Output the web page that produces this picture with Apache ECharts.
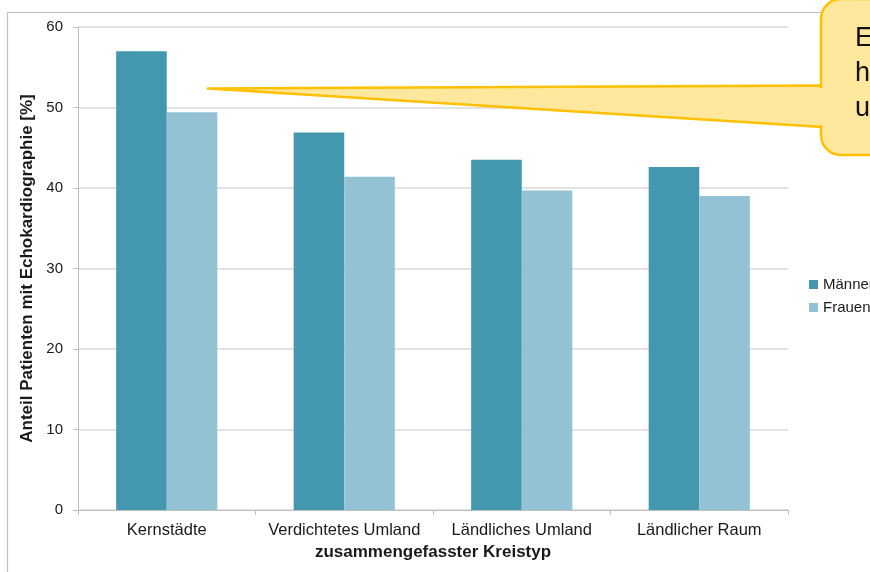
<!DOCTYPE html>
<html>
<head>
<meta charset="utf-8">
<script src="https://cdn.jsdelivr.net/npm/echarts@6/dist/echarts.min.js"></script>
<style>
  html, body { margin: 0; padding: 0; background: #ffffff; }
  #chart { width: 870px; height: 572px; }
</style>
</head>
<body>
<div id="chart"></div>
<script>
// Kreistypen (x-axis categories)
const categories = ['Kernstädte', 'Verdichtetes Umland', 'Ländliches Umland', 'Ländlicher Raum'];
// Anteil Patienten mit Echokardiographie in %
const maenner = [57.0, 46.9, 43.5, 42.6];
const frauen = [49.4, 41.4, 39.7, 39.0];
const seriesNames = ['Männer', 'Frauen'];
const yTicks = { min: 0, max: 60, interval: 10 };
const calloutLines = ['E', 'h', 'u'];

const colorM = '#4397ae';
const colorF = '#93c2d4';
const font = '"Liberation Sans", Arial, sans-serif';
const bubbleFill = '#ffe79e';
const bubbleStroke = '#ffc000';

const chart = echarts.init(document.getElementById('chart'), null, { renderer: 'canvas' });

const calloutText = calloutLines.map((t, i) => ({
  type: 'text',
  z: 103,
  style: {
    x: 855, y: 39 + i * 35, text: t,
    font: '27px ' + font, fill: '#111111',
    verticalAlign: 'middle'
  }
}));

chart.setOption({
  backgroundColor: '#ffffff',
  animation: false,
  grid: { left: 78, right: 82, top: 27, bottom: 62, containLabel: false },
  legend: {
    orient: 'vertical',
    left: 804, top: 272,
    itemWidth: 9, itemHeight: 9, itemGap: 8,
    icon: 'rect',
    textStyle: { fontFamily: font, fontSize: 15, color: '#1a1a1a', lineHeight: 15 },
    data: seriesNames
  },
  xAxis: {
    type: 'category',
    data: categories,
    name: 'zusammengefasster Kreistyp',
    nameLocation: 'middle',
    nameGap: 34,
    nameTextStyle: { fontFamily: font, fontSize: 17, fontWeight: 'bold', color: '#1a1a1a' },
    axisLine: { lineStyle: { color: '#bfbfbf', width: 1 } },
    axisTick: { show: true, length: 5, lineStyle: { color: '#bfbfbf' } },
    axisLabel: { fontFamily: font, fontSize: 16.5, color: '#1a1a1a', margin: 12, interval: 0 }
  },
  yAxis: {
    type: 'value',
    min: yTicks.min, max: yTicks.max, interval: yTicks.interval,
    name: 'Anteil Patienten mit Echokardiographie [%]',
    nameLocation: 'middle',
    nameGap: 33,
    nameTextStyle: { fontFamily: font, fontSize: 17, fontWeight: 'bold', color: '#1a1a1a' },
    axisLine: { show: true, lineStyle: { color: '#bfbfbf', width: 1 } },
    axisTick: { show: true, length: 5, lineStyle: { color: '#bfbfbf' } },
    axisLabel: { fontFamily: font, fontSize: 15, color: '#1a1a1a', margin: 15 },
    splitLine: { show: true, lineStyle: { color: '#d9d9d9', width: 1.5 } }
  },
  series: [
    {
      name: seriesNames[0], type: 'bar', data: maenner,
      itemStyle: { color: colorM },
      barGap: '0%', barCategoryGap: '43%'
    },
    {
      name: seriesNames[1], type: 'bar', data: frauen,
      itemStyle: { color: colorF },
      barGap: '0%', barCategoryGap: '43%'
    }
  ],
  graphic: [
    {
      // outer chart frame
      type: 'rect', z: -1, silent: true,
      shape: { x: 7.5, y: 12.5, width: 900, height: 600 },
      style: { fill: 'none', stroke: '#bfbfbf', lineWidth: 1.2 }
    },
    {
      // speech bubble pointer
      type: 'polygon', z: 100, silent: true,
      shape: { points: [[208, 88.5], [823, 85.5], [823, 127]] },
      style: { fill: bubbleFill, stroke: bubbleStroke, lineWidth: 2.5, lineJoin: 'round' }
    },
    {
      // speech bubble body
      type: 'rect', z: 101, silent: true,
      shape: { x: 821, y: -1, width: 90, height: 156, r: 20 },
      style: { fill: bubbleFill, stroke: bubbleStroke, lineWidth: 2.5 }
    },
    {
      // joins pointer and body without the seam
      type: 'rect', z: 102, silent: true,
      shape: { x: 818, y: 88, width: 8, height: 37 },
      style: { fill: bubbleFill }
    }
  ].concat(calloutText)
});
</script>
</body>
</html>
